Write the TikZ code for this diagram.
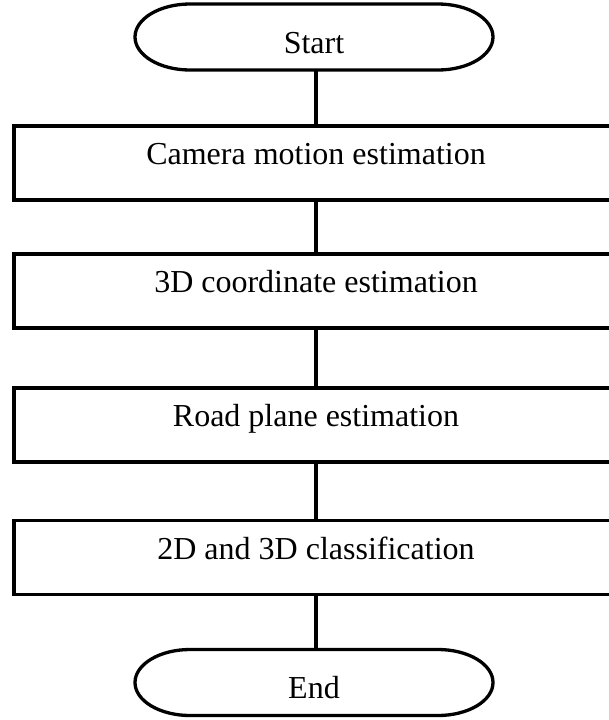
\documentclass[tikz,border=0pt]{standalone}
\usepackage{fontspec}
\setmainfont{Liberation Serif}
\begin{document}
\begin{tikzpicture}[x=1pt,y=-1pt,line width=3.3pt,
  termnode/.style={minimum width=358pt,minimum height=66pt,inner sep=0pt,outer sep=0pt,
    text height=32pt,text depth=0pt,font=\fontsize{32}{36}\selectfont},
  procbox/.style={draw,minimum width=604pt,minimum height=74pt,inner sep=0pt,
    text height=22pt,text depth=19pt,font=\fontsize{32}{36}\selectfont}]
\useasboundingbox (0,0) rectangle (609,720);
\clip (0,0) rectangle (609,720);
\node[termnode] (s) at (314,37) {Start};
\node[procbox] (b1) at (316,163) {Camera motion estimation};
\node[procbox] (b2) at (316,291) {3D coordinate estimation};
\node[procbox] (b3) at (316,425) {Road plane estimation};
\node[procbox] (b4) at (316,557.5) {2D and 3D classification};
\node[termnode] (e) at (314,682.5) {End};
\foreach \n in {s,e}{
  \draw ([xshift=55pt]\n.north west) -- ([xshift=-55pt]\n.north east)
    arc[start angle=90,end angle=-90,x radius=55pt,y radius=33pt]
    -- ([xshift=55pt]\n.south west)
    arc[start angle=270,end angle=90,x radius=55pt,y radius=33pt] -- cycle;
}
\draw ([xshift=2pt]s.south) -- ([xshift=2pt]s.south |- b1.north);
\draw (b1.south) -- (b2.north);
\draw (b2.south) -- (b3.north);
\draw (b3.south) -- (b4.north);
\draw (b4.south) -- (b4.south |- e.north);
\end{tikzpicture}
\end{document}
